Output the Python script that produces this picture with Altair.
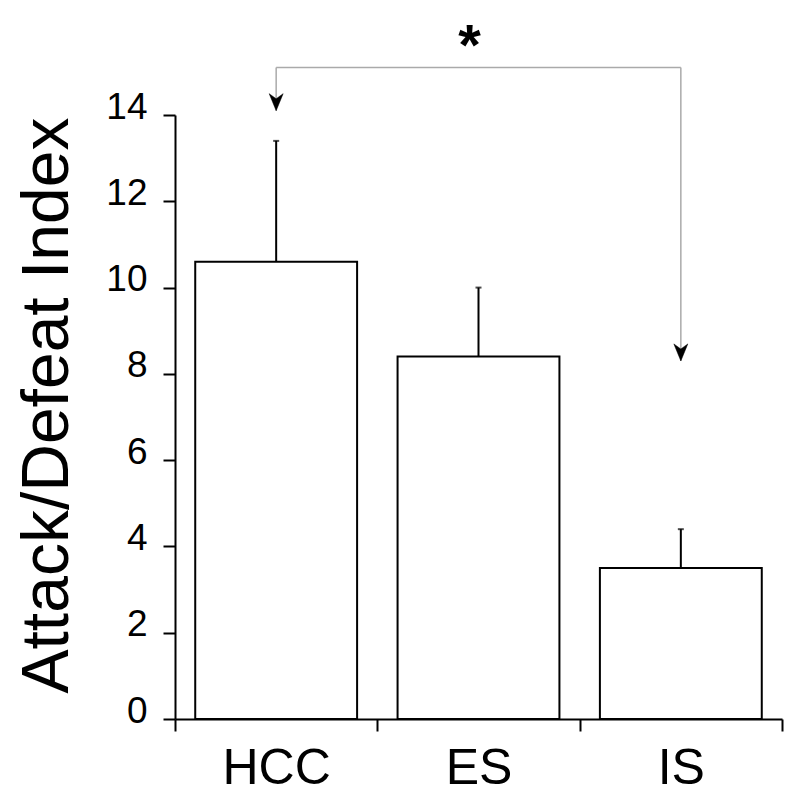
import altair as alt
import pandas as pd

groups = ["HCC", "ES", "IS"]
means = [10.6, 8.4, 3.5]
upper = [13.4, 10.0, 4.4]

bracket_from = "HCC"
bracket_to = "IS"
bracket_top = 15.1
tip_values = [14.1, 8.3]
star_group = "ES"
star_value = 15.15

FONT = "Liberation Sans"

bars_df = pd.DataFrame({"group": groups, "mean": means, "upper": upper})
vert_df = pd.DataFrame({"group": [bracket_from, bracket_to],
                        "tip": tip_values,
                        "top": [bracket_top, bracket_top]})
horiz_df = pd.DataFrame({"start": [bracket_from], "end": [bracket_to], "top": [bracket_top]})
star_df = pd.DataFrame({"group": [star_group], "v": [star_value], "label": ["*"]})

x_scale = alt.Scale(domain=groups, paddingInner=0, paddingOuter=0)
x_axis = alt.Axis(labelAngle=0, labelFontSize=50, labelFont=FONT,
                  labelColor="black", labelPadding=12,
                  tickSize=12, tickWidth=2, tickColor="black",
                  domainWidth=2, domainColor="black",
                  tickBand="extent")
y_scale = alt.Scale(domain=[0, 14], nice=False)
y_axis = alt.Axis(values=[0, 2, 4, 6, 8, 10, 12, 14], labelFontSize=37, labelFont=FONT,
                  labelColor="black", labelPadding=16, labelOffset=-8, tickSize=12,
                  tickWidth=2, tickColor="black", domainWidth=2, domainColor="black",
                  grid=False, title="Attack/Defeat Index", titleFont=FONT,
                  titleFontSize=66, titleFontWeight="normal", titleColor="black",
                  titlePadding=24, titleY=290)

bars = alt.Chart(bars_df).mark_bar(fill="white", stroke="black", strokeWidth=2,
                                   width={"band": 0.8}).encode(
    x=alt.X("group:N", scale=x_scale, axis=x_axis, title=None),
    y=alt.Y("mean:Q", scale=y_scale, axis=y_axis),
)

err = alt.Chart(bars_df).mark_rule(color="black", strokeWidth=2).encode(
    x=alt.X("group:N"),
    y=alt.Y("mean:Q"),
    y2="upper:Q",
)
caps = alt.Chart(bars_df).mark_tick(color="black", thickness=2, size=6).encode(
    x=alt.X("group:N"),
    y=alt.Y("upper:Q"),
)

vert = alt.Chart(vert_df).mark_rule(color="#aaaaaa", strokeWidth=1.5).encode(
    x=alt.X("group:N"),
    y=alt.Y("tip:Q"),
    y2="top:Q",
)
horiz = alt.Chart(horiz_df).mark_rule(color="#aaaaaa", strokeWidth=1.5).encode(
    x=alt.X("start:N"),
    x2="end:N",
    y=alt.Y("top:Q"),
)
arrows = alt.Chart(vert_df).mark_point(
    shape="M-0.82,-2 L0,0 L0.82,-2 L0,-1.4 Z", filled=True, fill="black",
    stroke="black", strokeWidth=0.5, opacity=1, size=289,
).encode(
    x=alt.X("group:N"),
    y=alt.Y("tip:Q"),
)
star = alt.Chart(star_df).mark_text(fontSize=58, fontWeight="bold", font=FONT,
                                    color="black", baseline="alphabetic", dx=-9).encode(
    x=alt.X("group:N"),
    y=alt.Y("v:Q"),
    text="label:N",
)

chart = alt.layer(bars, err, caps, vert, horiz, arrows, star).properties(
    width=607, height=604,
    autosize=alt.AutoSizeParams(type="none"),
    padding={"left": 167, "top": 107, "right": 10, "bottom": 75},
    background="white",
).configure_view(strokeWidth=0)

chart.save("out.html", embed_options={"renderer": "svg", "actions": False})
